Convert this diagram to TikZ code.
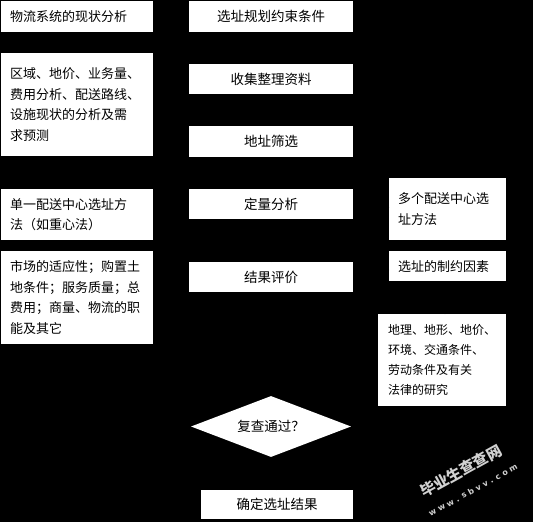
\documentclass[tikz,border=0pt]{standalone}
\usepackage{fontspec}
\newfontfamily\cjk{Noto Sans CJK SC}
\newfontfamily\wmfont{DejaVu Sans}
\usetikzlibrary{shapes.geometric,arrows.meta}
\begin{document}
\begin{tikzpicture}[x=1pt,y=-1pt,
  box/.style={draw=none,fill=white,text=black,inner sep=2pt,anchor=north west,
    font=\cjk\fontsize{13.5}{20.5}\selectfont},
  lbox/.style={box,align=left,inner xsep=9pt,font=\cjk\fontsize{13}{20.5}\selectfont},
  cbox/.style={box,align=center},
  link/.style={draw=black,-{Stealth[length=5pt]}},
  wm/.style={text=black!18,rotate=29,inner sep=0pt}]
\useasboundingbox[fill=black] (0,0) rectangle (533,522);
% left column
\node[lbox,text width=134pt,minimum width=152pt,minimum height=31pt] (l1) at (1,1) {物流系统的现状分析};
\node[lbox,text width=134pt,minimum width=152pt,minimum height=103pt] (l2) at (1,53)
  {区域、地价、业务量、\\费用分析、配送路线、\\设施现状的分析及需\\求预测};
\node[lbox,text width=134pt,minimum width=152pt,minimum height=51pt] (l3) at (1,189)
  {单一配送中心选址方\\法（如重心法）};
\node[lbox,text width=134pt,minimum width=152pt,minimum height=93pt] (l4) at (1,251)
  {市场的适应性；购置土\\地条件；服务质量；总\\费用；商量、物流的职\\能及其它};
% middle column
\node[cbox,minimum width=164pt,minimum height=31pt] (m1) at (189,1) {选址规划约束条件};
\node[cbox,minimum width=164pt,minimum height=30pt] (m2) at (189,64) {收集整理资料};
\node[cbox,minimum width=164pt,minimum height=31pt] (m3) at (189,126) {地址筛选};
\node[cbox,minimum width=164pt,minimum height=30pt] (m4) at (189,189) {定量分析};
\node[cbox,minimum width=164pt,minimum height=30pt] (m5) at (189,262) {结果评价};
\node[diamond,fill=white,inner sep=0pt,minimum width=160pt,minimum height=61pt,
  aspect=2.6,font=\cjk\fontsize{13.5}{20.5}\selectfont] (d) at (271,426.5) {复查通过？};
\node[cbox,minimum width=152pt,minimum height=29pt] (m6) at (201,490) {确定选址结果};
% right column
\node[lbox,text width=99pt,minimum width=117pt,minimum height=62pt] (r1) at (389,178)
  {多个配送中心选\\址方法};
\node[lbox,text width=99pt,minimum width=117pt,minimum height=30pt] (r2) at (389,251) {选址的制约因素};
\node[lbox,inner xsep=10pt,text width=108pt,minimum width=128pt,minimum height=92pt,
  font=\cjk\fontsize{12}{20}\selectfont] (r3) at (378,314)
  {地理、地形、地价、\\环境、交通条件、\\劳动条件及有关\\法律的研究};
% connectors (black, as in the reference)
\draw[link] (m1) -- (m2);
\draw[link] (m2) -- (m3);
\draw[link] (m3) -- (m4);
\draw[link] (m4) -- (m5);
\draw[link] (m5) -- (d);
\draw[link] (d) -- (m6);
\draw[link] (l1) -- (l2);
\draw[link] (l3) -- (m4);
\draw[link] (r1) -- (m4);
\draw[link] (l4) -- (m5);
\draw[link] (r2) -- (m5);
\draw[link] (r3) -- (r2);
% watermark
\node[wm,font=\cjk\bfseries\fontsize{15}{15}\selectfont] (w1) at (461,471) {毕业生查查网};
\node[wm,font=\wmfont\bfseries\fontsize{8}{8}\selectfont] (w2) at (473,490) {w w w . s b v v . c o m};
\end{tikzpicture}
\end{document}
